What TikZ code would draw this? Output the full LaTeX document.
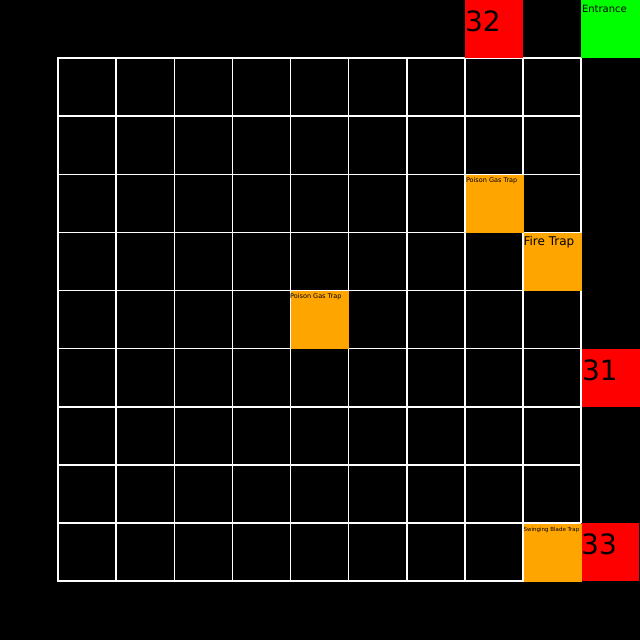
\documentclass[tikz,border=0pt]{standalone}
\usepackage{fontspec}
\setmainfont{DejaVu Sans}
\definecolor{trapor}{RGB}{255,165,0}
\definecolor{roomred}{RGB}{255,0,0}
\definecolor{entgreen}{RGB}{0,255,0}
\begin{document}
\begin{tikzpicture}[x=1pt,y=-1pt,
  gridcell/.style={draw=white,line width=1.6pt},
  block/.style={anchor=north west,inner sep=0pt,outer sep=0pt,minimum width=58.1pt,minimum height=58.1pt,draw=none},
  trapcell/.style={block,fill=trapor},
  redcell/.style={block,fill=roomred},
  greencell/.style={block,fill=entgreen,minimum width=59pt},
  smalllbl/.style={anchor=base west,inner sep=0pt,text=black},
  numlbl/.style={anchor=base west,inner sep=0pt,text=black,font=\fontsize{28}{30}\selectfont}
]
\fill[black] (0,0) rectangle (640,640);
\useasboundingbox (0,0) rectangle (640,640);
\foreach \i in {1,...,9}
  \foreach \j in {1,...,9}
    \draw[gridcell] ({58.1*\i},{58.1*\j}) rectangle +(58.1,58.1);
% coloured cells
\node[redcell] (r32) at (464.8,0) {};
\node[greencell] (ent) at (581,0) {};
\node[redcell] (r31) at (581.8,348.6) {};
\node[redcell] (r33) at (581,522.9) {};
\node[trapcell] (pg1) at (465.6,175.1) {};
\node[trapcell] (fire) at (523.7,233.2) {};
\node[trapcell] (pg2) at (291.3,291.3) {};
\node[trapcell] (blade) at (523.7,523.7) {};
% labels
\node[numlbl] (t32) at ([xshift=0pt,yshift=-31.7pt]r32.north west) {32};
\node[smalllbl,font=\fontsize{10}{12}\selectfont] (tent) at ([xshift=0.8pt,yshift=-12.5pt]ent.north west) {Entrance};
\node[numlbl] (t31) at ([xshift=0pt,yshift=-32.2pt]r31.north west) {31};
\node[numlbl] (t33) at ([xshift=0pt,yshift=-31.3pt]r33.north west) {33};
\node[smalllbl,font=\fontsize{6.5}{7}\selectfont] (tpg1) at ([xshift=0.2pt,yshift=-7.3pt]pg1.north west) {Poison Gas Trap};
\node[smalllbl,font=\fontsize{12}{14}\selectfont] (tfire) at ([xshift=-0.3pt,yshift=-12.7pt]fire.north west) {Fire Trap};
\node[smalllbl,font=\fontsize{6.5}{7}\selectfont] (tpg2) at ([xshift=-1.3pt,yshift=-7.3pt]pg2.north west) {Poison Gas Trap};
\node[smalllbl,font=\fontsize{5.5}{6}\selectfont] (tblade) at ([xshift=-0.3pt,yshift=-7.6pt]blade.north west) {Swinging Blade Trap};
\end{tikzpicture}
\end{document}
